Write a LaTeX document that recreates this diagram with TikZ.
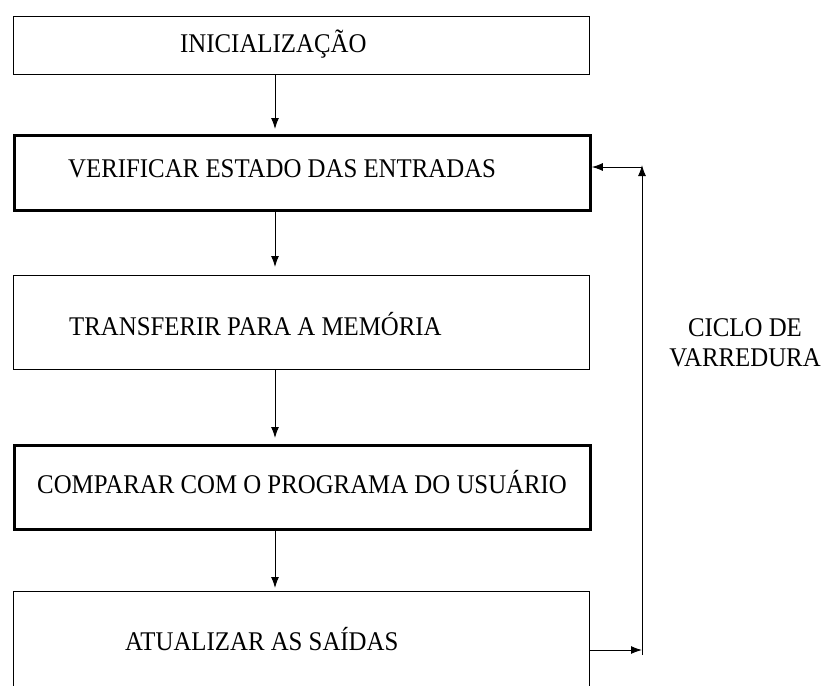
\documentclass[tikz,border=0pt]{standalone}
\usepackage{fontspec}
\newfontfamily\caixafont[FakeStretch=0.92]{Liberation Serif}
\usetikzlibrary{arrows.meta,positioning}

\tikzset{
    caixa/.style={draw, rectangle, anchor=north west, minimum width=576pt, inner sep=0pt},
    fina/.style={line width=1.1pt},
    grossa/.style={line width=2.8pt},
    texto/.style={anchor=base west, inner sep=0pt, font=\caixafont\fontsize{27}{30}\selectfont},
    seta/.style={-{Latex[length=11pt,width=8pt]}, line width=1pt},
}

\begin{document}
\begin{tikzpicture}[x=1pt, y=-1pt]
        \useasboundingbox (0,0) rectangle (823,686);
        % Caixas
        \node[caixa, fina,   minimum height=58pt]  (inic)  at (13,16)  {};
        \node[caixa, grossa, minimum height=75pt]  (verif) at (13,134) {};
        \node[caixa, fina,   minimum height=94pt]  (transf) at (13,275) {};
        \node[caixa, grossa, minimum height=84pt]  (comp)  at (13,444) {};
        \node[caixa, fina,   minimum height=110pt] (atual) at (13,591) {};
        % Textos
        \node[texto] (t-inic)   at (180,52)  {INICIALIZAÇÃO};
        \node[texto] (t-verif)  at (68,177)  {VERIFICAR ESTADO DAS ENTRADAS};
        \node[texto] (t-transf) at (69,335)  {TRANSFERIR PARA A MEMÓRIA};
        \node[texto] (t-comp)   at (37,493)  {COMPARAR COM O PROGRAMA DO USUÁRIO};
        \node[texto] (t-atual)  at (125,650) {ATUALIZAR AS SAÍDAS};
        \node[texto, anchor=center, align=center] (ciclo) at (745,343) {CICLO DE\\VARREDURA};
        % Fluxo principal
        \coordinate (col) at (275,0);
        \draw[seta, shorten >=5pt] (inic.south -| col)   -- (verif.north -| col);
        \draw[seta, shorten >=8pt] (verif.south -| col)  -- (transf.north -| col);
        \draw[seta, shorten >=6pt] (transf.south -| col) -- (comp.north -| col);
        \draw[seta, shorten >=3pt] (comp.south -| col)   -- (atual.north -| col);
        % Ciclo de varredura
        \coordinate (volta-sai) at (589,650);
        \coordinate (volta-bx)  at (642,655);
        \coordinate (volta-ci)  at (642,165);
        \coordinate (volta-en)  at (642,167);
        \draw[seta] (volta-sai) -- (volta-sai -| volta-bx);
        \draw[seta] (volta-bx) -- (volta-ci);
        \draw[seta] (volta-en) -- (verif.east |- volta-en);
    \end{tikzpicture}
\end{document}
